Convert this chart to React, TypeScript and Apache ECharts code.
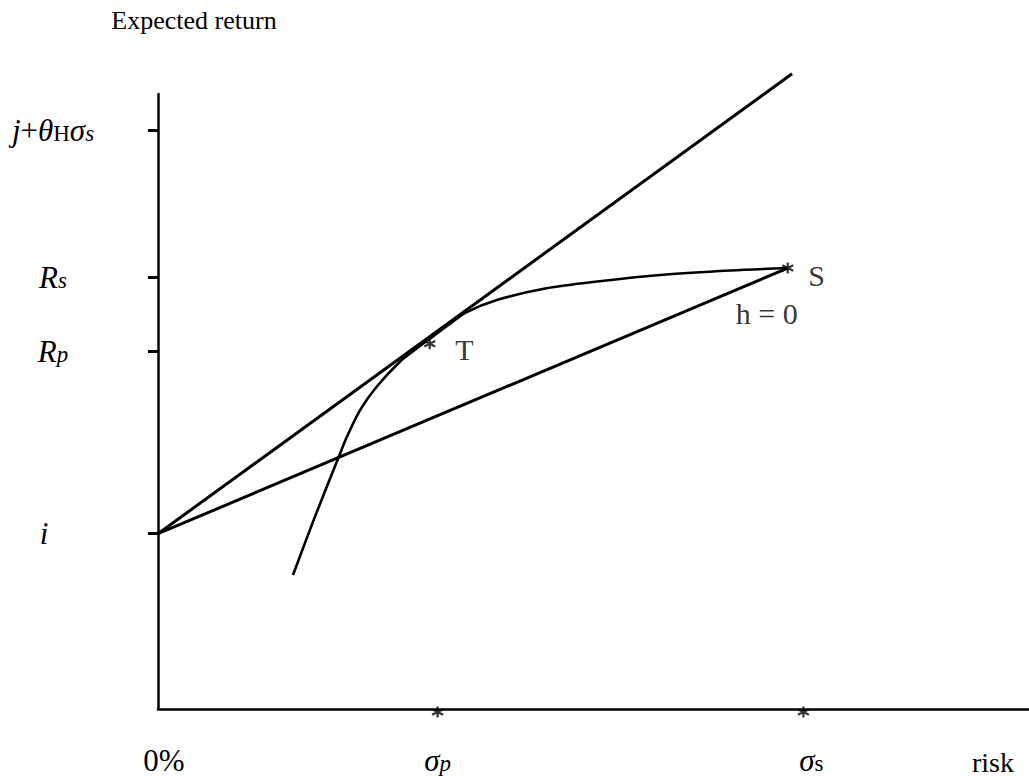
import React, { useEffect, useRef } from 'react';
import * as echarts from 'echarts';

// Axis ticks (data units: x = risk scale 0..100, y = expected return scale 0..100)
const xTickValues = [0, 32.1, 74.1];
const xTickLabels = ['0%', 'σp', 'σs'];
const yTickValues = [28.5, 58.2, 70.2, 94.1];
const yTickLabels = ['i', 'Rp', 'Rs', 'j+θHσs'];

// Lines
const marketLine = [
  [0, 28.5],
  [72.8, 103.3],
];
const safeLine = [
  [0, 28.5],
  [72.3, 71.7],
];
const frontier = [
  [15.5, 21.8],
  [18.0, 31.2],
  [20.7, 40.8],
  [21.7, 44.3],
  [23.2, 48.6],
  [25.1, 52.4],
  [27.8, 56.5],
  [29.5, 58.4],
  [31.2, 60.2],
  [33.3, 62.4],
  [35.4, 64.5],
  [38.9, 66.5],
  [44.6, 68.4],
  [50.4, 69.5],
  [58.0, 70.6],
  [65.7, 71.3],
  [72.3, 71.7],
];
const pointNames = ['T', 'S'];
const pointValues = [
  [31.2, 59.4],
  [72.3, 71.7],
];
const hLabel = 'h = 0';
const axisStars = [
  [32.1, 0],
  [74.1, 0],
];

const FONT = "'Liberation Serif', 'Times New Roman', serif";
const STAR = 'path://M5,0L5,10M0.67,2.5L9.33,7.5M0.67,7.5L9.33,2.5';

const richStyles = {
  it: { fontSize: 31, fontStyle: 'italic', fontFamily: FONT, color: '#000', lineHeight: 30 },
  rm: { fontSize: 31, fontFamily: FONT, color: '#000', lineHeight: 30 },
  ipad: { fontSize: 31, fontStyle: 'italic', fontFamily: FONT, color: '#000', lineHeight: 30, padding: [0, 18, 0, 0] },
  zpad: { fontSize: 31, fontFamily: FONT, color: '#000', lineHeight: 30, padding: [0, 0, 0, 12] },
  spad: { fontSize: 31, fontStyle: 'italic', fontFamily: FONT, color: '#000', lineHeight: 30, padding: [0, 0, 0, 16] },
  subi: { fontSize: 23, fontStyle: 'italic', fontFamily: FONT, color: '#000', lineHeight: 12, verticalAlign: 'bottom' },
  subr: { fontSize: 23, fontFamily: FONT, color: '#000', lineHeight: 12, verticalAlign: 'bottom' },
};

function richFor(name: string): string {
  switch (name) {
    case 'i':
      return '{ipad|i}';
    case 'Rp':
      return '{it|R}{subi|p}';
    case 'Rs':
      return '{it|R}{subi|s}';
    case 'j+θHσs':
      return '{it|j}{rm|+}{it|θ}{subr|H}{it|σ}{subi|s}';
    case '0%':
      return '{zpad|0%}';
    case 'σp':
      return '{it|σ}{subi|p}';
    case 'σs':
      return '{spad|σ}{subr|s}';
    default:
      return name;
  }
}

function labelFor(values: number[], labels: string[], v: number): string {
  for (let k = 0; k < values.length; k++) {
    if (Math.abs(values[k] - v) < 1e-6) return richFor(labels[k]);
  }
  return '';
}

export default function App() {
  const ref = useRef<HTMLDivElement>(null);

  useEffect(() => {
    if (!ref.current) return;
    const chart = echarts.init(ref.current, undefined, { renderer: 'svg' });
    const black = '#000';
    const option: any = {
      animation: false,
      backgroundColor: '#fff',
      textStyle: { fontFamily: FONT, color: black },
      grid: { left: 158, right: 0, top: 94, bottom: 67, containLabel: false },
      xAxis: {
        type: 'value',
        min: 0,
        max: 100,
        name: 'risk',
        nameLocation: 'end',
        nameGap: -57,
        nameTextStyle: {
          fontSize: 28,
          fontFamily: FONT,
          color: black,
          align: 'left',
          verticalAlign: 'top',
          padding: [39, 0, 0, 0],
        },
        axisLine: { show: true, lineStyle: { color: black, width: 2.5 } },
        axisTick: { show: false },
        splitLine: { show: false },
        axisLabel: {
          customValues: xTickValues,
          margin: 36,
          formatter: (v: number) => labelFor(xTickValues, xTickLabels, v),
          rich: richStyles,
        },
      },
      yAxis: {
        type: 'value',
        min: 0,
        max: 100,
        name: 'Expected return',
        nameLocation: 'end',
        nameGap: 74,
        nameTextStyle: {
          fontSize: 26,
          fontFamily: FONT,
          color: black,
          align: 'center',
          verticalAlign: 'middle',
          padding: [0, 0, 0, 72],
        },
        axisLine: { show: true, lineStyle: { color: black, width: 2.5 } },
        axisTick: {
          show: true,
          customValues: yTickValues,
          length: 10,
          lineStyle: { color: black, width: 3 },
        },
        splitLine: { show: false },
        axisLabel: {
          customValues: yTickValues,
          align: 'center',
          margin: 105,
          formatter: (v: number) => labelFor(yTickValues, yTickLabels, v),
          rich: richStyles,
        },
      },
      series: [
        {
          type: 'line',
          data: marketLine,
          symbol: 'none',
          clip: false,
          lineStyle: { color: black, width: 3 },
        },
        {
          type: 'line',
          data: safeLine,
          symbol: 'none',
          clip: false,
          lineStyle: { color: black, width: 3 },
        },
        {
          type: 'line',
          data: frontier,
          symbol: 'none',
          smooth: 0.3,
          clip: false,
          lineStyle: { color: black, width: 2.6 },
        },
        {
          type: 'scatter',
          clip: false,
          symbol: STAR,
          symbolSize: 11,
          itemStyle: { color: black, borderColor: black, borderWidth: 2.2 },
          label: {
            show: true,
            position: 'right',
            formatter: '{b}',
            fontSize: 30,
            fontFamily: FONT,
            color: black,
          },
          data: pointNames.map((n, k) => ({
            name: n,
            value: pointValues[k],
            label: k === 0 ? { distance: 19, offset: [0, 6] } : { distance: 14, offset: [0, 7] },
          })),
        },
        {
          type: 'scatter',
          clip: false,
          symbolSize: 0,
          label: {
            show: true,
            position: 'inside',
            formatter: hLabel,
            fontSize: 30,
            fontFamily: FONT,
            color: black,
            offset: [-21, 45],
          },
          data: [pointValues[1]],
        },
        {
          type: 'scatter',
          clip: false,
          symbol: STAR,
          symbolSize: 11,
          symbolOffset: [0, 3],
          itemStyle: { color: black, borderColor: black, borderWidth: 2.2 },
          data: axisStars,
        },
      ],
    };
    chart.setOption(option);
    return () => {
      chart.dispose();
    };
  }, []);

  return (
    <div
      ref={ref}
      style={{ position: 'fixed', left: 0, top: 0, width: 1029, height: 776 }}
    />
  );
}
